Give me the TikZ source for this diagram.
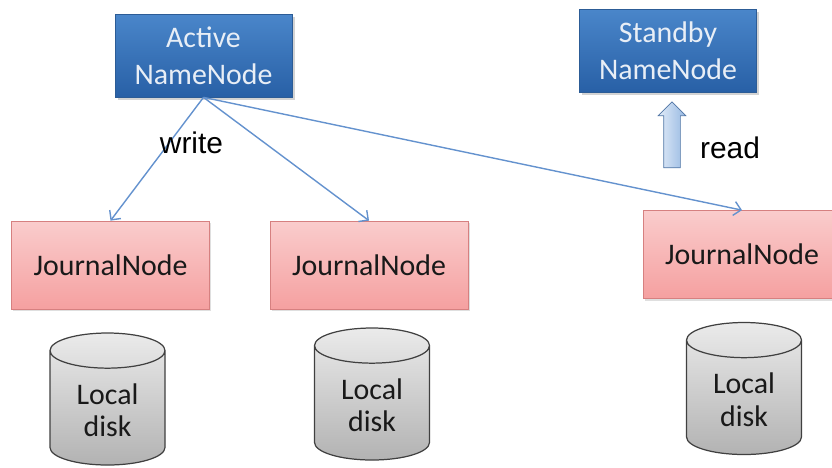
\documentclass[tikz,border=0pt]{standalone}
\usepackage{fontspec}
\setmainfont{Carlito}
\newfontfamily\arialfont{Liberation Sans}
\usetikzlibrary{shapes,arrows.meta,positioning,shadows}
\definecolor{nntop}{RGB}{74,134,202}
\definecolor{nnbot}{RGB}{40,96,166}
\definecolor{nnedge}{RGB}{44,92,150}
\definecolor{nntext}{RGB}{232,238,246}
\definecolor{jntop}{RGB}{250,204,204}
\definecolor{jnbot}{RGB}{245,160,160}
\definecolor{jnedge}{RGB}{214,128,128}
\definecolor{lineblue}{RGB}{100,146,206}
\definecolor{readtop}{RGB}{226,236,248}
\definecolor{readbot}{RGB}{150,184,226}

\begin{document}
\begin{tikzpicture}[
        namenode/.style={draw=nnedge, top color=nntop, bottom color=nnbot, text=nntext,
            minimum width=3.54cm, minimum height=1.66cm, align=center,
            font=\fontsize{17}{21}\selectfont,
            drop shadow={opacity=0.35, shadow xshift=0.05cm, shadow yshift=-0.05cm}},
        journal/.style={draw=jnedge, top color=jntop, bottom color=jnbot, text=black!90,
            minimum width=3.96cm, minimum height=1.76cm,
            font=\fontsize{17}{21}\selectfont,
            drop shadow={opacity=0.25, shadow xshift=0.03cm, shadow yshift=-0.04cm}},
        disk/.style={cylinder, shape border rotate=90, aspect=3.0, draw=black!75, line width=0.7pt,
            top color=black!8, bottom color=black!30, minimum width=2.3cm, minimum height=2.64cm,
            anchor=shape center},
        disktext/.style={align=center, text=black!90, font=\fontsize{17}{18.5}\selectfont},
        writeline/.style={draw=lineblue, line width=0.8pt, -{Straight Barb[length=4pt,width=8pt]}}
    ]
    \useasboundingbox (0,0) rectangle (16.64,-9.34);

    \node[namenode] (active) at (4.07,-1.11) {Active\\NameNode};
    \node[namenode] (standby) at (13.36,-1.01) {Standby\\NameNode};

    \node[journal] (jn1) at (2.21,-5.30) {JournalNode};
    \node[journal] (jn2) at (7.38,-5.30) {JournalNode};
    \node[journal] (jn3) at (14.84,-5.09) {JournalNode};

    \node[disk] (d1) at (2.15,-7.98) {};
    \node[disktext] (d1t) at (2.15,-8.2) {Local\\disk};
    \node[disk] (d2) at (7.44,-7.88) {};
    \node[disktext] (d2t) at (7.44,-8.1) {Local\\disk};
    \node[disk] (d3) at (14.88,-7.77) {};
    \node[disktext] (d3t) at (14.88,-7.99) {Local\\disk};

    \draw[writeline] (active.south) -- (jn1.north);
    \draw[writeline] (active.south) -- (jn2.north);
    \draw[writeline] (active.south) -- (jn3.north);
    \node[font=\arialfont\fontsize{17}{20}\selectfont] (write) at (3.83,-2.86) {write};

    \node[single arrow, rotate=90, draw=lineblue!80!black, left color=readtop, right color=readbot,
        minimum height=1.32cm, inner sep=0.16cm, single arrow head extend=0.11cm] (readarrow) at (13.44,-2.78) {};
    \node[font=\arialfont\fontsize{17}{20}\selectfont] (read) at (14.6,-2.96) {read};
\end{tikzpicture}
\end{document}
